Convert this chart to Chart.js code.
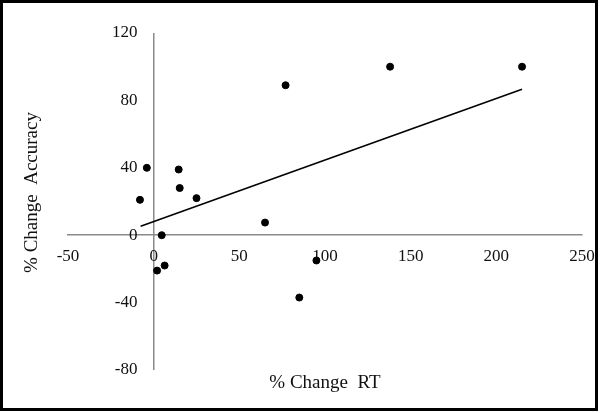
<!DOCTYPE html>
<html>
<head>
<meta charset="utf-8">
<script src="https://cdn.jsdelivr.net/npm/chart.js@4/dist/chart.umd.min.js"></script>
<style>
  html, body { margin: 0; padding: 0; background: #fff; }
  #wrap { width: 600px; height: 413px; }
</style>
</head>
<body>
<div id="wrap"><canvas id="chartCanvas" width="600" height="413"></canvas></div>
<script>
// % change in RT vs % change in accuracy, one point per subject
const rtChange = [-4, -8, 4.7, 14.6, 15.2, 25, 2, 6.4, 65, 77, 138, 215, 85, 95];
const accChange = [40, 21, 0, 39, 28, 22, -21, -18, 7.5, 89, 100, 100, -37, -15];

// fitted trend line end points
const trendX = [-7.6, 215];
const trendY = [5.3, 86.6];

const xTicks = [-50, 0, 50, 100, 150, 200, 250];
const yTicks = [-80, -40, 0, 40, 80, 120];

const xTitle = "% Change  RT";
const yTitle = "% Change  Accuracy";

const serif = "'Liberation Serif', 'Times New Roman', serif";
const axisGray = "#8a8a8a";

const frameAndTitles = {
  id: "frameAndTitles",
  afterDraw(chart) {
    const { ctx, chartArea } = chart;
    ctx.save();
    ctx.strokeStyle = "#000";
    ctx.lineWidth = 3;
    ctx.strokeRect(1.5, 1.5, 595, 408);

    ctx.fillStyle = "#111";
    ctx.font = "19px " + serif;
    ctx.textAlign = "center";
    ctx.textBaseline = "middle";
    ctx.fillText(xTitle, (chartArea.left + chartArea.right) / 2, chartArea.bottom + 13);

    ctx.translate(32, (chartArea.top + chartArea.bottom) / 2 - 9);
    ctx.rotate(-Math.PI / 2);
    ctx.fillText(yTitle, 0, 0);
    ctx.restore();
  }
};

new Chart(document.getElementById("chartCanvas"), {
  type: "scatter",
  data: {
    datasets: [
      {
        label: "Subjects",
        data: rtChange.map((x, i) => ({ x, y: accChange[i] })),
        backgroundColor: "#000",
        borderColor: "#000",
        pointRadius: 3.5,
        pointHoverRadius: 3.5
      },
      {
        type: "line",
        label: "Trend",
        data: trendX.map((x, i) => ({ x, y: trendY[i] })),
        borderColor: "#000",
        borderWidth: 1.6,
        pointRadius: 0,
        fill: false
      }
    ]
  },
  options: {
    responsive: false,
    animation: false,
    layout: { padding: { left: 68, right: 18, top: 33, bottom: 43 } },
    plugins: {
      legend: { display: false },
      tooltip: { enabled: false }
    },
    scales: {
      x: {
        type: "linear",
        position: { y: 0 },
        min: -50,
        max: 250,
        afterBuildTicks: s => { s.ticks = xTicks.map(v => ({ value: v })); },
        // don't let the end labels shrink the plot area
        afterFit: s => { s.paddingLeft = 0; s.paddingRight = 0; },
        // only the x = 0 grid line is kept: it is the vertical axis
        grid: {
          display: true,
          drawTicks: false,
          lineWidth: 1.5,
          color: c => (c.tick && c.tick.value === 0 ? axisGray : "rgba(0,0,0,0)")
        },
        border: { display: true, color: axisGray, width: 1.5 },
        ticks: { color: "#111", padding: 11, font: { family: serif, size: 17 } }
      },
      y: {
        type: "linear",
        // labels sit right-aligned on this x value, a little left of the axis
        position: { x: -9.5 },
        min: -80,
        max: 120,
        afterBuildTicks: s => { s.ticks = yTicks.map(v => ({ value: v })); },
        grid: { display: false, drawTicks: false },
        border: { display: false },
        ticks: { color: "#111", padding: 0, font: { family: serif, size: 17 } }
      }
    }
  },
  plugins: [frameAndTitles]
});
</script>
</body>
</html>
